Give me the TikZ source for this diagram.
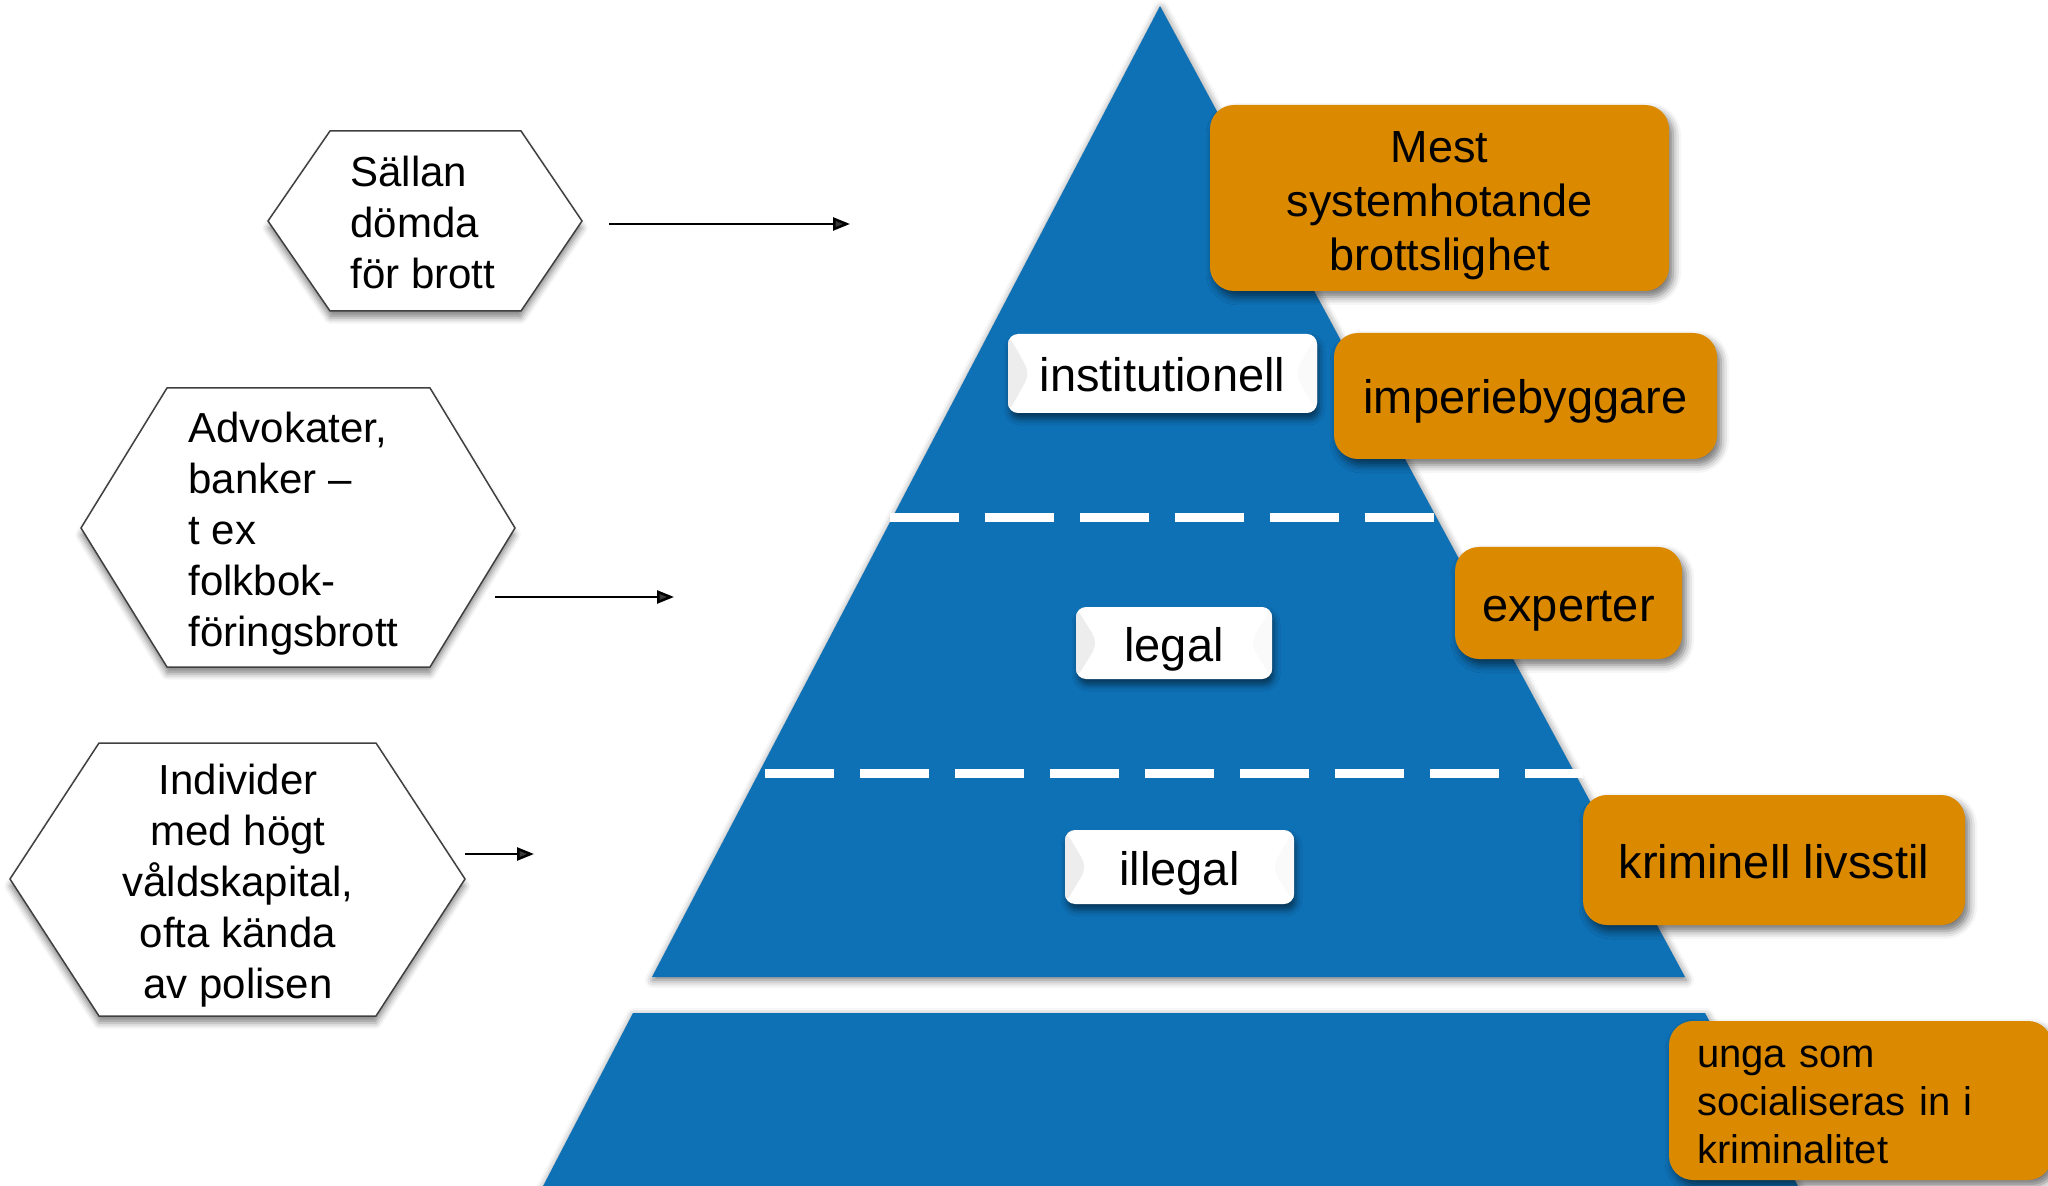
\documentclass[tikz,border=0pt]{standalone}
\usepackage{fontspec}
\setmainfont{Liberation Sans}
\usetikzlibrary{arrows.meta,shadows.blur}
\definecolor{pblue}{RGB}{14,112,181}
\definecolor{porange}{RGB}{219,138,0}
\definecolor{hexline}{RGB}{64,64,64}
\begin{document}
\begin{tikzpicture}[x=0.5pt,y=-0.5pt,
  pyr/.style={fill=pblue, blur shadow={shadow xshift=0.5pt, shadow yshift=-1.5pt, shadow blur radius=4pt, shadow opacity=55}},
  hexshape/.style={draw=hexline, line width=0.75pt, fill=white, line join=miter,
     blur shadow={shadow xshift=0pt, shadow yshift=-3.5pt, shadow blur radius=3pt, shadow opacity=45}},
  hextext/.style={font=\fontsize{21pt}{25.5pt}\selectfont, inner sep=0pt},
  obox/.style={fill=porange, rounded corners=12pt, inner sep=0pt,
     blur shadow={shadow xshift=2pt, shadow yshift=-3pt, shadow blur radius=4pt, shadow opacity=55}},
  wbox/.style={fill=white, rounded corners=5pt, inner sep=0pt,
     blur shadow={shadow xshift=1pt, shadow yshift=-3pt, shadow blur radius=3pt, shadow opacity=50},
     path picture={\fill[black!7] (path picture bounding box.north west) -- ([xshift=11pt]path picture bounding box.west) -- (path picture bounding box.south west) -- cycle;
                   \fill[black!2] (path picture bounding box.north east) -- ([xshift=-11pt]path picture bounding box.east) -- (path picture bounding box.south east) -- cycle;}},
  lbl/.style={font=\fontsize{23.5pt}{28pt}\selectfont, text height=22pt, text depth=4pt},
  arr/.style={line width=1.25pt, -{Triangle[length=8.5pt,width=6.5pt]}},
  dashline/.style={white, line width=4.5pt, dash pattern=on 34.5pt off 13pt}
]
\useasboundingbox (0,0) rectangle (2048,1186);
\clip (0,0) rectangle (2048,1186);

% pyramid
\fill[pyr] (1160,6) -- (652,977) -- (1685,977) -- cycle;
\fill[pyr] (633,1013) -- (1705,1013) -- (1800,1190) -- (541,1190) -- cycle;

% dashed separators
\coordinate (d1a) at (889.5,518); \coordinate (d1b) at (1433.5,518);
\coordinate (d2a) at (765,773);   \coordinate (d2b) at (1583,773);
\draw[dashline] (d1a) -- (d1b);
\draw[dashline] (d2a) -- (d2b);

% hexagons
\draw[hexshape] (268,221) -- (330,131) -- (521,131) -- (582,221) -- (521,311) -- (330,311) -- cycle;
\draw[hexshape] (81,528) -- (167,388) -- (430,388) -- (515,528) -- (430,667) -- (167,667) -- cycle;
\draw[hexshape] (10,879) -- (99,743) -- (376,743) -- (465,879) -- (376,1016) -- (99,1016) -- cycle;

\node[hextext, anchor=west, align=left] (t1) at (350,222) {Sällan\\dömda\\för brott};
\node[hextext, anchor=west, align=left] (t2) at (188,534) {Advokater,\\banker –\\t ex\\folkbok-\\föringsbrott};
\node[hextext, align=center] (t3) at (238,886) {Individer\\med högt\\våldskapital,\\ofta kända\\av polisen};

% arrows
\coordinate (a1s) at (609,224); \coordinate (a1e) at (850,224);
\coordinate (a2s) at (495,597); \coordinate (a2e) at (674,597);
\coordinate (a3s) at (465,854); \coordinate (a3e) at (534,854);
\draw[arr] (a1s) -- (a1e);
\draw[arr] (a2s) -- (a2e);
\draw[arr] (a3s) -- (a3e);

% orange boxes
\node[obox, minimum width=229.5pt, minimum height=93pt, align=center, text height=72.5pt, text depth=0pt,
      font=\fontsize{22.5pt}{27pt}\selectfont] (mest) at (1439.5,198) {Mest\\systemhotande\\brottslighet};
\node[obox, lbl, minimum width=191.5pt, minimum height=63pt] (imp) at (1525.5,396) {imperiebyggare};
\node[obox, lbl, minimum width=113.5pt, minimum height=56pt] (exp) at (1568.5,603) {experter};
\node[obox, lbl, minimum width=191pt, minimum height=65pt] (krim) at (1774,860) {kriminell livsstil};
\node[obox, minimum height=79.5pt, text width=163.5pt, inner xsep=14pt, align=left, text height=15.5pt,
      font=\fontsize{20pt}{24pt}\selectfont] (unga) at (1860.5,1100.5) {unga som\\socialiseras in i\\kriminalitet};

% white labels
\node[wbox, lbl, minimum width=154.5pt, minimum height=39.5pt] (inst) at (1162.5,373.5) {institutionell};
\node[wbox, lbl, minimum width=98pt, minimum height=36pt] (leg) at (1174,643) {legal};
\node[wbox, lbl, minimum width=114.5pt, minimum height=37pt] (ill) at (1179.5,867) {illegal};
\end{tikzpicture}
\end{document}
